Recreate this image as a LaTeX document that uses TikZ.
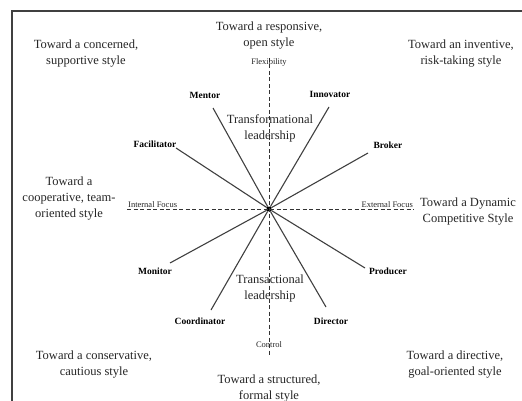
\documentclass[tikz,border=0pt]{standalone}
\usepackage{fontspec}
\setmainfont{Liberation Serif}
\usetikzlibrary{positioning}
\tikzset{
  Frame/.style={draw=black!75,line width=1.4pt},   % Rahmen
  Axis/.style={draw=black!80,line width=1pt,dash pattern=on 4pt off 2.5pt}, % Achsen
  Spoke/.style={draw=black!75,line width=1.1pt},   % Rollen
  Hub/.style={circle,fill=black,inner sep=0pt,minimum size=5pt},
  Role/.style={font=\fontsize{9.5}{11}\selectfont\bfseries,inner sep=0pt},
  AxisLabel/.style={font=\fontsize{8.5}{10}\selectfont,inner sep=1pt,text=black!85},
  Corner/.style={align=center,font=\fontsize{12.5}{16}\selectfont,text=black!85}
}

\begin{document}
\begin{tikzpicture}[x=1pt,y=-1pt,
font=\fontsize{12.5}{16}\selectfont
]
\useasboundingbox (0,0) rectangle (522,401);

%Rahmen
\draw[Frame] (12,401) -- (12,11) -- (522,11);

%Mitte und Achsen
\node[Hub] (C) at (269,209) {};
\coordinate (Top) at (269,58);
\coordinate (Bottom) at (269,356);
\coordinate (Left) at (127,209);
\coordinate (Right) at (414,209);
\draw[Axis] (Top) -- (Bottom);
\draw[Axis] (Left) -- (Right);

\node[AxisLabel] (Flex) at (269,62) {Flexibility};
\node[AxisLabel] (Ctrl) at (269,345) {Control};
\node[AxisLabel, anchor=south west] (IntF) at (Left) {Internal Focus};
\node[AxisLabel, anchor=south east] (ExtF) at (Right) {External Focus};

%Rollen
\foreach \name/\lx/\ly/\ex/\ey in {
  Mentor/205/95/213/108,
  Innovator/330/94/329/107,
  Facilitator/155/144/176/148,
  Broker/388/145/368/153,
  Monitor/155/271/170/263,
  Coordinator/200/321/211/310,
  Producer/388/271/365/268,
  Director/331/321/326/307}{
  \node[Role] (\name) at (\lx,\ly) {\name};
  \coordinate (\name-end) at (\ex,\ey);
  \draw[Spoke] (C) -- (\name-end);
}

%Fuehrung
\node[Corner] (Tf) at (270,128) {Transformational\\leadership};
\node[Corner] (Ta) at (270,288) {Transactional\\leadership};

%Richtungen
\node[Corner] (NW) at (86,54) {Toward a concerned,\\supportive style};
\node[Corner] (N) at (269,36) {Toward a responsive,\\open style};
\node[Corner] (NE) at (461,54) {Toward an inventive,\\risk-taking style};
\node[Corner] (W) at (69,199) {Toward a\\cooperative, team-\\oriented style};
\node[Corner] (E) at (468,212) {Toward a Dynamic\\Competitive Style};
\node[Corner] (SW) at (94,365) {Toward a conservative,\\cautious style};
\node[Corner] (S) at (269,389) {Toward a structured,\\formal style};
\node[Corner] (SE) at (455,365) {Toward a directive,\\goal-oriented style};

\end{tikzpicture}
\end{document}
